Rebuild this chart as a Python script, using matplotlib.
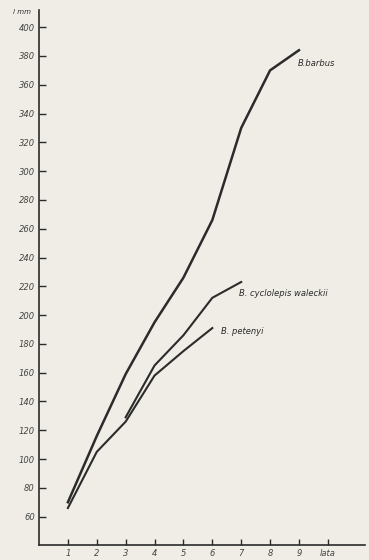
import matplotlib
matplotlib.use('Agg')
import matplotlib.pyplot as plt

# growth of barbel species, length l (mm) by age (lata)
barbus_age = [1, 2, 3, 4, 5, 6, 7, 8, 9]
barbus_len = [70, 116, 159, 195, 226, 266, 330, 370, 384]

cyclolepis_age = [3, 4, 5, 6, 7]
cyclolepis_len = [129, 165, 186, 212, 223]

petenyi_age = [1, 2, 3, 4, 5, 6]
petenyi_len = [66, 105, 126, 158, 175, 191]

y_ticks = list(range(60, 401, 20))
x_ticks = list(range(1, 11))
x_labels = [str(i) for i in range(1, 10)] + ['lata']

paper = '#efede6'
ink = '#2b2b2b'

fig = plt.figure(figsize=(3.69, 5.6), dpi=100, facecolor=paper)
ax = fig.add_axes([0.1057, 0.0268, 0.883, 0.955])
ax.set_facecolor(paper)

ax.plot(barbus_age, barbus_len, color=ink, lw=1.8)
ax.plot(cyclolepis_age, cyclolepis_len, color=ink, lw=1.5)
ax.plot(petenyi_age, petenyi_len, color=ink, lw=1.5)

ax.set_xlim(0, 11.28)
ax.set_ylim(40.3, 411.8)

ax.spines['top'].set_color('none')
ax.spines['right'].set_color('none')
for s in ['left', 'bottom']:
    ax.spines[s].set_color(ink)
    ax.spines[s].set_linewidth(1.2)

ax.set_yticks(y_ticks)
ax.set_yticklabels([str(v) for v in y_ticks], fontsize=6, style='italic', color='#444444')
ax.set_xticks(x_ticks)
ax.set_xticklabels(x_labels, fontsize=6, style='italic', color='#444444')
ax.tick_params(axis='y', direction='in', length=5, width=1, color=ink, pad=3)
ax.tick_params(axis='x', direction='in', length=4, width=1, color=ink, pad=3)

ax.text(8.97, 375, 'B.barbus', fontsize=6, style='italic', color=ink, va='center')
ax.text(6.94, 215, 'B. cyclolepis waleckii', fontsize=6, style='italic', color=ink, va='center')
ax.text(6.31, 188.5, 'B. petenyi', fontsize=6, style='italic', color=ink, va='center')

fig.text(0.035, 0.978, 'l mm', fontsize=5, style='italic', color=ink, va='center')

fig.savefig('out.png', dpi=100, facecolor=paper)
